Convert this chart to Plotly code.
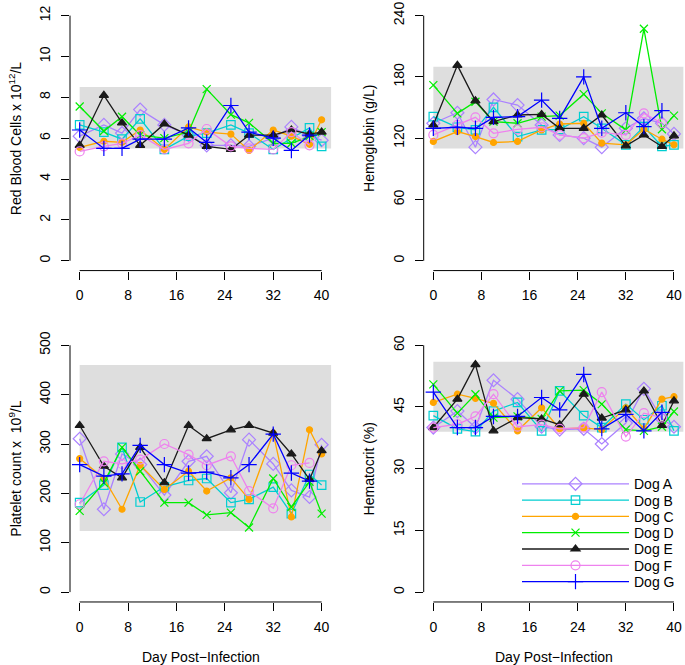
import plotly.graph_objects as go

W, H = 685, 665

days = [0, 4, 7, 10, 14, 18, 21, 25, 28, 32, 35, 38, 40]
dogs = ["Dog A", "Dog B", "Dog C", "Dog D", "Dog E", "Dog F", "Dog G"]

rbc = {
    "Dog A": [6.1, 6.65, 6.25, 7.4, 6.65, 6.15, 5.65, 5.65, 5.6, 6.0, 6.55, 6.1, 5.9],
    "Dog B": [6.65, 6.3, 5.95, 6.95, 5.45, 6.1, 6.25, 6.65, 6.25, 5.45, 6.0, 6.5, 5.6],
    "Dog C": [5.55, 5.85, 5.8, 6.4, 5.45, 6.55, 6.3, 6.2, 5.4, 6.4, 6.1, 5.7, 6.9],
    "Dog D": [7.55, 6.35, 7.05, 6.15, 6.0, 6.3, 8.4, 7.15, 6.75, 5.75, 5.75, 6.1, 6.3],
    "Dog E": [5.65, 8.1, 6.75, 5.65, 6.7, 6.15, 5.6, 5.45, 6.15, 6.15, 6.4, 6.2, 6.3],
    "Dog F": [5.35, 5.6, 5.75, 6.15, 5.45, 5.75, 6.45, 5.6, 5.5, 5.45, 6.3, 5.65, None],
    "Dog G": [6.4, 5.5, 5.5, 5.95, 5.95, 6.5, 5.8, 7.6, 6.3, 6.0, 5.4, 6.15, None],
}
hgb = {
    "Dog A": [134.6, 144.9, 111.2, 157.9, 152.4, 132.9, 123.2, 120.0, 111.2, 129.7, 139.4, 134.6, 124.2],
    "Dog B": [141.1, 130.7, 128.1, 150.2, 121.6, 128.1, 128.7, 141.1, 129.7, 113.5, 131.3, 111.9, 113.5],
    "Dog C": [116.8, 126.5, 121.6, 115.8, 116.8, 128.1, 133.9, 134.6, 115.2, 113.5, 128.7, 119.0, 113.5],
    "Dog D": [171.9, 144.3, 155.7, 136.2, 134.6, 141.1, 142.1, 163.1, 144.3, 128.1, 227.1, 128.7, 142.1],
    "Dog E": [132.9, 191.3, 156.6, 136.2, 142.7, 143.3, 129.7, 129.7, 142.7, 112.5, 123.2, 111.9, 122.3],
    "Dog F": [123.2, 132.9, 140.4, 124.8, 128.7, 130.7, 123.2, 120.0, 125.5, 123.2, 144.3, 134.6, None],
    "Dog G": [129.7, 130.7, 129.7, 140.4, 141.1, 157.3, 139.4, 180.0, 129.7, 144.9, 131.3, 146.9, None],
}
plt_count = {
    "Dog A": [310.7, 167.8, 279.8, 258.3, 196.6, 265.0, 275.1, 201.3, 308.8, 259.6, 206.0, 192.6, 298.5],
    "Dog B": [181.2, 216.8, 293.3, 182.5, 213.4, 226.1, 230.1, 181.2, 187.9, 212.7, 159.0, 238.2, 216.8],
    "Dog C": [270.4, 230.1, 167.8, 257.0, 208.0, 244.9, 204.7, 231.5, 187.9, 322.1, 152.3, 328.8, 279.8],
    "Dog D": [164.4, 221.5, 293.3, 244.9, 181.2, 181.2, 156.3, 161.0, 130.9, 230.1, 172.4, 223.5, 159.0],
    "Dog E": [337.5, 255.0, 231.5, 293.3, 221.5, 337.5, 310.7, 328.8, 337.5, 322.1, 279.8, 228.2, 286.4],
    "Dog F": [178.0, 265.0, 259.6, 268.4, 300.0, 278.5, 257.0, 275.1, 204.7, 169.8, 257.0, 261.7, None],
    "Dog G": [258.3, 234.8, 239.5, 297.2, 258.3, 241.2, 243.2, 231.5, 258.3, 320.1, 241.2, 224.8, None],
}
hct = {
    "Dog A": [40.0, 44.0, 40.0, 51.5, 46.9, 40.2, 39.5, 39.7, 36.0, 41.1, 49.4, 42.1, 40.2],
    "Dog B": [42.9, 39.7, 39.0, 44.0, 46.1, 39.2, 48.9, 42.9, 40.0, 45.7, 41.9, 45.3, 39.2],
    "Dog C": [46.1, 48.1, 47.1, 45.9, 39.2, 44.8, 39.7, 39.9, 39.5, 44.8, 39.7, 46.9, 47.5],
    "Dog D": [50.5, 43.5, 48.1, 42.4, 42.7, 42.1, 48.9, 49.1, 45.7, 39.5, 39.2, 40.2, 43.9],
    "Dog E": [40.0, 46.9, 55.3, 39.2, 42.4, 42.1, 40.7, 48.1, 42.3, 44.3, 48.9, 40.5, 46.5],
    "Dog F": [40.0, 40.8, 42.7, 48.1, 40.2, 40.7, 39.7, 40.0, 48.6, 37.8, 43.5, 42.4, None],
    "Dog G": [48.6, 40.0, 40.0, 42.7, 42.7, 47.3, 44.3, 52.9, 39.7, 43.2, 39.2, 43.7, None],
}

# reference ranges (shaded band)
rbc_ref = [5.5, 8.5]
hgb_ref = [110, 190]
plt_ref = [124, 460]
hct_ref = [39, 56]

x_ticks = [0, 8, 16, 24, 32, 40]
rbc_ticks = [0, 2, 4, 6, 8, 10, 12]
hgb_ticks = [0, 60, 120, 180, 240]
plt_ticks = [0, 100, 200, 300, 400, 500]
hct_ticks = [0, 15, 30, 45, 60]

styles = {
    "Dog A": dict(color="#AB82FF", symbol="diamond-open", size=10),
    "Dog B": dict(color="#00CED1", symbol="square-open", size=8.5),
    "Dog C": dict(color="#FFA500", symbol="circle", size=6),
    "Dog D": dict(color="#00EE00", symbol="x-thin-open", size=8),
    "Dog E": dict(color="#1A1A1A", symbol="triangle-up", size=8),
    "Dog F": dict(color="#EE82EE", symbol="circle-open", size=9),
    "Dog G": dict(color="#0000FF", symbol="cross-thin-open", size=11),
}

panels = [
    (rbc, rbc_ref, rbc_ticks, 12, "x", "y", "Red Blood Cells x 10<sup>12</sup>/L", (70, 331.3), (1.8, 268.2)),
    (hgb, hgb_ref, hgb_ticks, 240, "x2", "y2", "Hemoglobin (g/L)", (423.7, 683.6), (1.8, 268.2)),
    (plt_count, plt_ref, plt_ticks, 500, "x3", "y3", "Platelet count x  10<sup>9</sup>/L", (70, 331.3), (333.4, 601.6)),
    (hct, hct_ref, hct_ticks, 60, "x4", "y4", "Hematocrit (%)", (423.7, 683.6), (333.4, 601.6)),
]

FS = 14
fig = go.Figure()
FONT = "Liberation Sans, Arial, Helvetica, sans-serif"
layout = dict(
    width=W, height=H, margin=dict(l=0, r=0, t=0, b=0),
    paper_bgcolor="white", plot_bgcolor="white",
    font=dict(family=FONT, size=FS, color="black"),
    shapes=[], annotations=[],
    showlegend=True,
    legend=dict(x=517 / W, y=1 - 467 / H, xanchor="left", yanchor="top",
                bgcolor="rgba(0,0,0,0)", borderwidth=0, itemwidth=107,
                font=dict(size=FS), tracegroupgap=0, itemclick=False),
)

for pi, (data, ref, yt, ymax, xa, ya, ylab, dx, dy) in enumerate(panels):
    for d in dogs:
        st = styles[d]
        fig.add_trace(go.Scatter(
            x=days, y=data[d], mode="lines+markers", name=d,
            xaxis=xa, yaxis=ya, showlegend=(pi == 3), cliponaxis=False,
            line=dict(color=st["color"], width=1.3),
            marker=dict(symbol=st["symbol"], size=st["size"], color=st["color"],
                        line=dict(color=st["color"], width=1.2)),
            hoverinfo="skip",
        ))
    xk = "xaxis" + xa[1:]
    yk = "yaxis" + ya[1:]
    pad = 0.04 * ymax
    layout[xk] = dict(domain=[dx[0] / W, dx[1] / W], range=[-1.6, 41.6], anchor=ya,
                      tickvals=x_ticks, ticks="outside", ticklen=8, tickcolor="black",
                      showgrid=False, zeroline=False, showline=False, ticklabelstandoff=4,
                      tickfont=dict(size=FS))
    layout[yk] = dict(domain=[1 - dy[1] / H, 1 - dy[0] / H], range=[-pad, ymax + pad], anchor=xa,
                      tickvals=yt, ticks="outside", ticklen=8, tickcolor="black", tickangle=-90,
                      showgrid=False, zeroline=False, showline=False, ticklabelstandoff=5,
                      tickfont=dict(size=FS))
    layout["shapes"].append(dict(type="rect", xref=xa, yref=ya, x0=0, x1=41.6, y0=ref[0], y1=ref[1],
                                 fillcolor="#DEDEDE", line=dict(width=0), layer="below"))
    layout["shapes"].append(dict(type="line", xref=xa, yref=ya + " domain", x0=x_ticks[0], x1=x_ticks[-1],
                                 y0=0, y1=0, line=dict(color="black", width=1)))
    layout["shapes"].append(dict(type="line", xref=xa + " domain", yref=ya, x0=0, x1=0,
                                 y0=yt[0], y1=yt[-1], line=dict(color="black", width=1)))
    layout["annotations"].append(dict(text=ylab, textangle=-90, xref="paper", yref="paper",
                                      x=(dx[0] - 55) / W, y=1 - (dy[0] + dy[1]) / 2 / H,
                                      xanchor="center", yanchor="middle", showarrow=False,
                                      font=dict(size=FS)))
    if pi >= 2:
        layout["annotations"].append(dict(text="Day Post\u2212Infection", xref="paper", yref="paper",
                                          x=(dx[0] + dx[1]) / 2 / W, y=1 - 657 / H,
                                          xanchor="center", yanchor="middle", showarrow=False,
                                          font=dict(size=FS)))

fig.update_layout(**layout)

post = """
document.body.style.margin='0';
var gd = document.getElementById('{plot_id}');
function tightenLegend(){
  var items = gd.querySelectorAll('.legend .traces');
  var y0 = null;
  items.forEach(function(el, i){
    var t = el.getAttribute('transform') || '';
    var m = /translate\\(([-\\d.e]+)[ ,]+([-\\d.e]+)\\)/.exec(t);
    if(!m) return;
    if(y0 === null) y0 = parseFloat(m[2]);
    el.setAttribute('transform', 'translate(' + m[1] + ',' + (y0 + i * 16.3) + ')');
  });
}
tightenLegend();
gd.on && gd.on('plotly_afterplot', tightenLegend);
"""
fig.write_html("out.html", post_script=post, config={"displayModeBar": False})
